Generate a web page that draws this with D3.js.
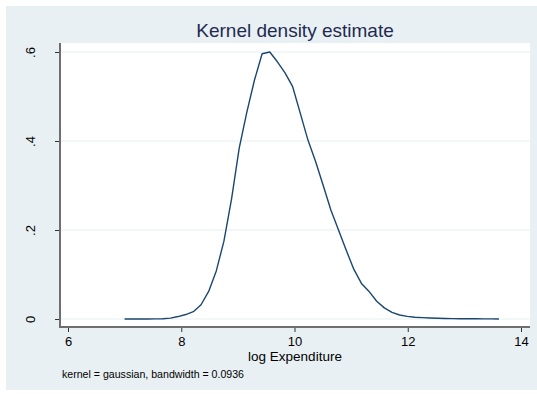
<!DOCTYPE html>
<html>
<head>
<meta charset="utf-8">
<script src="https://cdn.jsdelivr.net/npm/d3@7"></script>
<style>
  html, body { margin: 0; padding: 0; background: #fff; }
  svg { display: block; font-family: "Liberation Sans", Arial, Helvetica, sans-serif; }
</style>
</head>
<body>
<svg id="chart" width="537" height="394"></svg>
<script>
// Evaluation grid of the kernel density estimate (50 points, min to max of log expenditure)
const gridMin = 7.0;
const gridMax = 13.61;
const density = [
  0.0000, 0.0000, 0.0000, 0.0001, 0.0003, 0.0007, 0.0020, 0.0055, 0.0100, 0.0165,
  0.0320, 0.0620, 0.1080, 0.1750, 0.2700, 0.3840, 0.4650, 0.5370, 0.5960, 0.6000,
  0.5780, 0.5530, 0.5220, 0.4620, 0.4020, 0.3540, 0.3000, 0.2450, 0.2000, 0.1550,
  0.1120, 0.0800, 0.0620, 0.0400, 0.0250, 0.0150, 0.0090, 0.0060, 0.0040, 0.0030,
  0.0022, 0.0016, 0.0012, 0.0009, 0.0007, 0.0005, 0.0004, 0.0003, 0.0002, 0.0001
];
const gridX = density.map((_, i) => gridMin + i * (gridMax - gridMin) / (density.length - 1));

const xTicks = [6, 8, 10, 12, 14];
const yTicks = [0, 0.2, 0.4, 0.6];
const yTickLabels = ["0", ".2", ".4", ".6"];

const titleText = "Kernel density estimate";
const xTitle = "log Expenditure";
const noteText = "kernel = gaussian, bandwidth = 0.0936";

const svg = d3.select("#chart");

// graph region
svg.append("rect").attr("x", 6).attr("y", 6).attr("width", 531).attr("height", 384)
  .attr("fill", "#e9f0f3");

// plot region
const plot = { left: 60, right: 530, top: 43, bottom: 327 };
svg.append("rect")
  .attr("x", plot.left).attr("y", plot.top)
  .attr("width", plot.right - plot.left).attr("height", plot.bottom - plot.top)
  .attr("fill", "#ffffff");

const x = d3.scaleLinear().domain([6, 14]).range([68, 521]);
const y = d3.scaleLinear().domain([0, 0.6]).range([319, 52]);

// horizontal grid lines
svg.append("g").selectAll("line").data(yTicks).join("line")
  .attr("x1", plot.left).attr("x2", plot.right)
  .attr("y1", d => y(d)).attr("y2", d => y(d))
  .attr("stroke", "#e6eff1").attr("stroke-width", 1.2);

// y axis
const yAxis = d3.axisLeft(y).tickValues(yTicks).tickSize(5).tickPadding(16)
  .tickFormat((d, i) => yTickLabels[i]);
const gy = svg.append("g").attr("transform", `translate(${plot.left},0)`).call(yAxis);
gy.select(".domain").remove();
gy.selectAll(".tick line").attr("stroke", "#333").attr("stroke-width", 1);
gy.selectAll(".tick text")
  .attr("font-size", 13).attr("fill", "#000")
  .attr("text-anchor", "middle")
  .attr("x", 0).attr("dy", 0)
  .attr("transform", "translate(-28,0) rotate(-90)")
  .attr("dominant-baseline", "middle");
svg.append("line").attr("x1", plot.left).attr("x2", plot.left)
  .attr("y1", plot.top).attr("y2", plot.bottom + 1)
  .attr("stroke", "#6e6e6e").attr("stroke-width", 2);

// x axis
const xAxis = d3.axisBottom(x).tickValues(xTicks).tickSize(5).tickPadding(5)
  .tickFormat(d3.format("d"));
const gx = svg.append("g").attr("transform", `translate(0,${plot.bottom})`).call(xAxis);
gx.select(".domain").remove();
gx.selectAll(".tick line").attr("stroke", "#333").attr("stroke-width", 1);
gx.selectAll(".tick text").attr("font-size", 13).attr("fill", "#000");
svg.append("line").attr("x1", plot.left - 1).attr("x2", plot.right)
  .attr("y1", plot.bottom).attr("y2", plot.bottom)
  .attr("stroke", "#6e6e6e").attr("stroke-width", 2);

// density curve
const line = d3.line().x((d, i) => x(gridX[i])).y(d => y(d));
svg.append("path").datum(density)
  .attr("d", line)
  .attr("fill", "none")
  .attr("stroke", "#1a476f")
  .attr("stroke-width", 1.4)
  .attr("stroke-linejoin", "round");

// titles
svg.append("text").attr("x", (plot.left + plot.right) / 2).attr("y", 37)
  .attr("text-anchor", "middle").attr("font-size", 19).attr("fill", "#1e2b50")
  .text(titleText);
svg.append("text").attr("x", (plot.left + plot.right) / 2).attr("y", 361)
  .attr("text-anchor", "middle").attr("font-size", 13.5).attr("fill", "#000")
  .text(xTitle);
svg.append("text").attr("x", 62).attr("y", 378)
  .attr("font-size", 10.6).attr("fill", "#000")
  .text(noteText);
</script>
</body>
</html>
